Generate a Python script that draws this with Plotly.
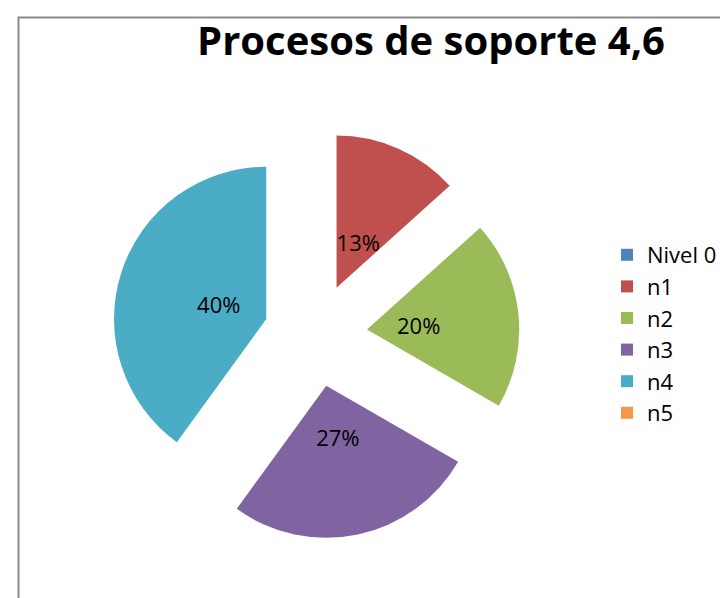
import plotly.graph_objects as go

labels = ["Nivel 0", "n1", "n2", "n3", "n4", "n5"]
values = [0, 2, 3, 4, 6, 0]
colors = ["#4F81BD", "#C0504D", "#9BBB59", "#8064A2", "#4BACC6", "#F79646"]
title_text = "Procesos de soporte 4,6"

W, H = 728, 598
cx, cy, half = 307.5, 327, 204


def dom(x, y, h):
    return dict(x=[(x - h) / W, (x + h) / W], y=[(H - y - h) / H, (H - y + h) / H])


fig = go.Figure()
# exploded slices
fig.add_trace(go.Pie(
    labels=labels,
    values=values,
    sort=False,
    direction="clockwise",
    rotation=0,
    pull=[0.34] * len(values),
    marker=dict(colors=colors, line=dict(width=0)),
    textinfo="none",
    domain=dom(cx, cy, half),
    hoverinfo="label+percent",
))
# percentage labels (transparent ring, same data)
fig.add_trace(go.Pie(
    labels=labels,
    values=values,
    sort=False,
    direction="clockwise",
    rotation=0,
    hole=0.5,
    marker=dict(colors=["rgba(0,0,0,0)"] * len(values), line=dict(width=0)),
    textinfo="percent",
    texttemplate="%{percent:.0%}",
    textposition="inside",
    insidetextorientation="horizontal",
    textfont=dict(family="Open Sans, sans-serif", size=22, color="black"),
    domain=dom(308.5, 328, 137),
    showlegend=False,
    hoverinfo="skip",
))

fig.update_layout(
    width=W, height=H,
    margin=dict(l=0, r=0, t=0, b=0),
    paper_bgcolor="white",
    plot_bgcolor="white",
    title=dict(text=title_text, x=423 / W, xanchor="center", y=1 - 33 / H, yanchor="middle",
               font=dict(family="Open Sans, sans-serif", size=40, color="black", weight="bold")),
    legend=dict(x=599 / W, xanchor="left", y=1 - 226 / H, yanchor="top",
                font=dict(family="Open Sans, sans-serif", size=22, color="black"),
                itemwidth=30, bgcolor="rgba(0,0,0,0)"),
    shapes=[dict(type="rect", xref="paper", yref="paper",
                 x0=10.5 / W, x1=1.05, y0=-0.05, y1=1 - 9.5 / H,
                 line=dict(color="#8a8a8a", width=2), fillcolor="rgba(0,0,0,0)", layer="below")],
)

fig.write_html("out.html")
